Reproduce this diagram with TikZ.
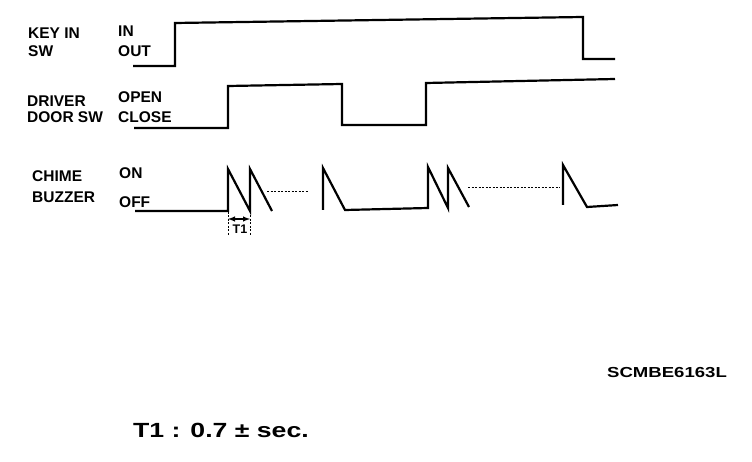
\documentclass[tikz,border=0pt]{standalone}
\usepackage{fontspec}
\setmainfont{Liberation Sans}
\usetikzlibrary{arrows}
\pgfkeys{tikz/siglabel/.style={anchor=base west,inner sep=0pt,font=\fontsize{15.5}{17}\selectfont\bfseries}}
\pgfkeys{tikz/wave/.style={line width=2.2pt,line join=miter}}
\pgfkeys{tikz/gapline/.style={line width=0.8pt,dash pattern=on 2pt off 1.5pt}}

\begin{document}
\begin{tikzpicture}[x=1pt,y=-1pt]
\useasboundingbox (0,0) rectangle (752,462);
\draw (28,39) node[siglabel] (key) {KEY IN};
\draw (28,57) node[siglabel] (keysw) {SW};
\draw (118,37) node[siglabel] (keyin) {IN};
\draw (118,57) node[siglabel] (keyout) {OUT};
\draw (27,107) node[siglabel] (door) {DRIVER};
\draw (27,123) node[siglabel] (doorsw) {DOOR SW};
\draw (118,103) node[siglabel] (dooropen) {OPEN};
\draw (118,123) node[siglabel] (doorclose) {CLOSE};
\draw (32,182) node[siglabel] (chime) {CHIME};
\draw (32,203) node[siglabel] (buzzer) {BUZZER};
\draw (119,179) node[siglabel] (chimeon) {ON};
\draw (119,208) node[siglabel] (chimeoff) {OFF};
\draw [wave] (133,66)--(175,66)--(175,23)--(583,17)--(583,59)--(615,59);
\draw [wave] (134,128)--(228,128)--(228,86)--(342,84)--(342,125)--(426,125)--(426,83)--(615,79);
\draw [wave] (135,211)--(228,211)--(228,169)--(250,211)--(250,169)--(272,211);
\draw [gapline] (267,191)--(308,191);
\draw [wave] (323,210)--(323,168)--(345,210)--(428,208)--(428,167)--(448,208)--(448,168)--(469,207);
\draw [gapline] (468,187)--(560,187);
\draw [wave] (563,205)--(563,165)--(587,207)--(618,205);
\coordinate (t1l) at (228,219);
\coordinate (t1r) at (250,219);
\draw [gapline] (228,212)--(228,235);
\draw [gapline] (250,212)--(250,235);
\draw [latex-latex, line width=1.4pt] (t1l)--(t1r);
\draw (240,234) node[anchor=base, inner sep=0pt, font=\fontsize{12.5}{14}\selectfont\bfseries] (t1) {T1};
\draw (607,377) node[anchor=base west, inner sep=0pt, font=\fontsize{14.5}{16}\selectfont\bfseries] (code) {\scalebox{1.28}[1]{SCMBE6163L}};
\draw (133,437) node[anchor=base west, inner sep=0pt, font=\fontsize{20.5}{22}\selectfont\bfseries] (tnote) {\scalebox{1.3}[1]{T1 : 0.7 ± sec.}};
\end{tikzpicture}
\end{document}
